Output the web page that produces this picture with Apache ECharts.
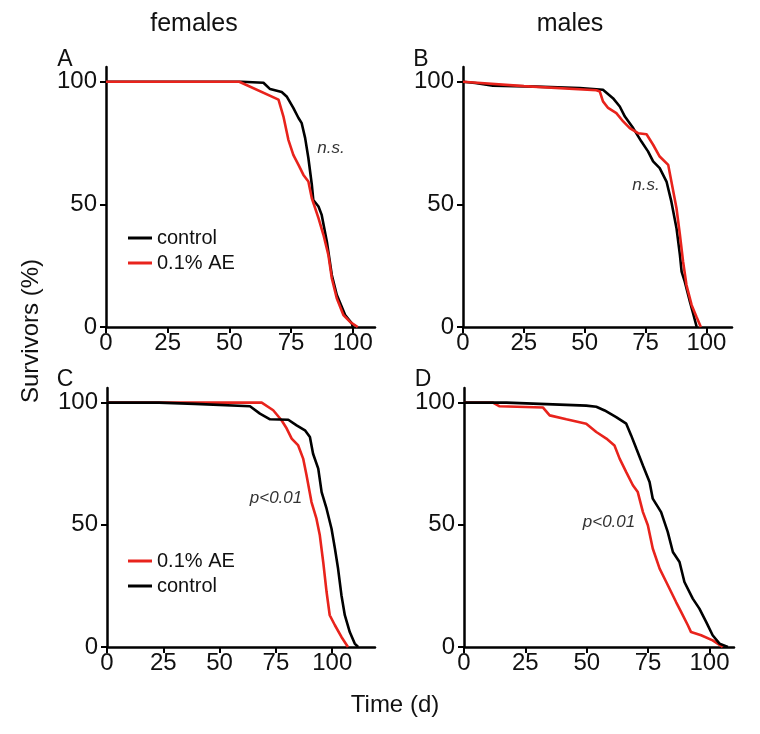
<!DOCTYPE html>
<html>
<head>
<meta charset="utf-8">
<script src="https://cdn.jsdelivr.net/npm/echarts@6/dist/echarts.min.js"></script>
<style>html,body{margin:0;padding:0;background:#fff}#chart{width:760px;height:734px}</style>
</head>
<body>
<div id="chart"></div>
<script>
// ---- data (days, % survivors) ----
const femalesA_control = [[0,100],[55,100],[63.8,99.6],[66.5,97],[71.2,95.8],[73.2,94],[75.9,89.3],[78,85.2],[79.3,83.1],[80.7,77],[82,68.9],[83.4,58],[84,51.8],[86.1,49.1],[87.4,45.7],[89.5,34.8],[91.5,21.2],[93.5,13.1],[96.9,4.9],[99.6,1.5],[100,0]];
const femalesA_AE = [[0,100],[54,100],[69.9,92.7],[71.9,85.8],[73.9,76.3],[75.9,70.2],[78,66.1],[80,62],[82,59.3],[83.4,52.5],[86.1,44.4],[88.1,37.6],[90.1,29.4],[91.5,19.9],[93.5,11.7],[96.2,4.9],[99,2],[102,0]];
const malesB_control = [[0,100],[5,99.5],[12.3,98.4],[30,98],[48,97.4],[57.5,96.7],[61.6,93.3],[64.4,89.9],[66.5,85.8],[69.9,81.1],[73.3,75.6],[76,71.6],[78.1,67.5],[80.8,64.8],[83.6,59.3],[85.6,51.1],[87.7,40.3],[89.1,29.4],[89.8,22.6],[91.1,18.5],[93.2,10.3],[94.5,5.6],[96,0]];
const malesB_AE = [[0,100],[25,98.2],[54.8,96.5],[56.2,96],[57.5,92],[59.6,89.3],[63,87.2],[65.8,83.8],[68.5,81.1],[71.9,79],[75.4,78.6],[78.1,74.3],[80.8,69.5],[84.3,66.1],[85.6,59.3],[87.7,48.4],[89.1,37.6],[90.4,26.7],[91.8,17.1],[93.9,9],[95.9,4.2],[97.7,0]];
const femalesC_control = [[0,100],[23,100],[23,99.5],[39,99.5],[39,99],[63.5,98.5],[67.9,95.5],[72.4,93.2],[80.5,93],[84.2,90.7],[87.9,88.7],[90.1,85.9],[91.5,79.1],[93.8,73],[95.3,63.4],[97.5,56.6],[99.7,48.4],[101.2,40.3],[102.6,32.1],[104.1,21.2],[105.6,13],[107.8,6.1],[110,1.4],[111.5,0]];
const femalesC_AE = [[0,100],[68.7,100],[73.8,96.9],[77.5,92.8],[79.8,89.4],[82,85.3],[84.9,82.5],[87.1,77.1],[88.6,70.3],[90.8,59.3],[93,52.5],[94.5,45.7],[96,34.8],[97.5,22.5],[98.9,13],[101.2,8.9],[104.1,4.1],[107,0]];
const malesD_control = [[0,100],[17.3,100],[17.3,99.3],[49.8,98.8],[53.9,98.3],[57.3,96.8],[62,94.1],[66.1,91.4],[68.1,86.6],[70.2,81.2],[72.9,74.3],[75.6,67.5],[76.9,60.7],[80.3,55.2],[83,47.1],[85.1,38.9],[87.8,34.8],[89.8,26.6],[93.2,19.8],[95.9,15.7],[98.7,10.2],[101.3,4.8],[104.1,1.4],[107.5,0]];
const malesD_AE = [[0,100],[11.8,100],[14.5,98.5],[32.2,98],[34.9,94.8],[41.7,93.2],[49.8,91.4],[53.9,88],[58,85.3],[61.3,82.5],[63.4,77.1],[66.1,71.6],[68.8,66.2],[70.8,63.4],[72.9,55.2],[74.9,49.8],[76.9,40.3],[79.7,32.1],[82.4,26.6],[84.4,22.5],[86.4,18.4],[88.5,14.3],[91.2,8.9],[92.5,6.1],[96.6,4.8],[101.3,2.7],[105.4,0]];

const xTicks = [0, 25, 50, 75, 100];
const yTicks = [0, 50, 100];
const xMaxes = [109, 110.5, 119, 110];
const seriesNames = ['control', '0.1% AE'];
const panelLetters = ['A', 'B', 'C', 'D'];
const columnTitles = ['females', 'males'];
const pLabels = ['n.s.', 'n.s.', 'p<0.01', 'p<0.01'];

const FONT = '"Liberation Sans", Arial, Helvetica, sans-serif';
const RED = '#e8231c';
const BLACK = '#000000';

const grids = [
  {left: 106, top: 67, width: 269, height: 260},
  {left: 463, top: 67, width: 269, height: 260},
  {left: 107, top: 388, width: 268, height: 259},
  {left: 464, top: 388, width: 270, height: 259}
];

function xAxisFor(i) {
  return {
    type: 'value', gridIndex: i, min: 0, max: xMaxes[i], interval: 25,
    splitLine: {show: false},
    axisLine: {show: true, onZero: false, lineStyle: {color: BLACK, width: 2.5}},
    axisTick: {show: true, length: 6, customValues: xTicks, lineStyle: {color: BLACK, width: 2}},
    axisLabel: {customValues: xTicks, margin: 4, color: '#111', fontSize: 24, fontFamily: FONT}
  };
}
function yAxisFor(i) {
  return {
    type: 'value', gridIndex: i, min: 0, max: 106, interval: 50,
    splitLine: {show: false},
    axisLine: {show: true, onZero: false, lineStyle: {color: BLACK, width: 2.5}},
    axisTick: {show: true, length: 6, customValues: yTicks, lineStyle: {color: BLACK, width: 2}},
    axisLabel: {customValues: yTicks, margin: 9, color: '#111', fontSize: 24, fontFamily: FONT}
  };
}
function line(name, data, idx, color, z) {
  return {
    type: 'line', name: name, data: data, xAxisIndex: idx, yAxisIndex: idx,
    showSymbol: false, symbol: 'none', z: z, animation: false,
    lineStyle: {color: color, width: 2.6}, itemStyle: {color: color}
  };
}

const panelData = [
  [femalesA_control, femalesA_AE, true],
  [malesB_control, malesB_AE, true],
  [femalesC_control, femalesC_AE, false],
  [malesD_control, malesD_AE, false]
];
const series = [];
panelData.forEach(function (p, i) {
  const redOnTop = p[2];
  series.push(line(seriesNames[0], p[0], i, BLACK, redOnTop ? 2 : 3));
  series.push(line(seriesNames[1], p[1], i, RED, redOnTop ? 3 : 2));
});

function txt(x, y, text, size, opts) {
  opts = opts || {};
  return {
    type: 'text', x: x, y: y, rotation: opts.rotation || 0, z: 10,
    style: {
      text: text, fill: opts.fill || '#111', fontSize: size, fontFamily: FONT,
      fontStyle: opts.italic ? 'italic' : 'normal',
      textAlign: opts.align || 'center', textVerticalAlign: 'middle'
    }
  };
}

const graphics = [
  txt(194, 24, columnTitles[0], 25),
  txt(570, 24, columnTitles[1], 25),
  txt(65, 60, panelLetters[0], 23),
  txt(421, 60, panelLetters[1], 23),
  txt(65, 380, panelLetters[2], 23),
  txt(423, 380, panelLetters[3], 23),
  txt(31, 331, 'Survivors (%)', 24, {rotation: Math.PI / 2}),
  txt(395, 705, 'Time (d)', 24),
  txt(331, 148, pLabels[0], 17, {italic: true, fill: '#333'}),
  txt(646, 185, pLabels[1], 17, {italic: true, fill: '#333'}),
  txt(276, 498, pLabels[2], 17, {italic: true, fill: '#333'}),
  txt(609, 522, pLabels[3], 17, {italic: true, fill: '#333'})
];

const legendCommon = {
  orient: 'vertical', itemWidth: 24, itemHeight: 3, itemGap: 5, icon: 'rect',
  selectedMode: false,
  textStyle: {fontSize: 20, fontFamily: FONT, color: '#111', lineHeight: 20}
};

const option = {
  backgroundColor: '#ffffff',
  animation: false,
  grid: grids,
  xAxis: [0, 1, 2, 3].map(xAxisFor),
  yAxis: [0, 1, 2, 3].map(yAxisFor),
  legend: [
    Object.assign({}, legendCommon, {left: 123, top: 223, data: [seriesNames[0], seriesNames[1]]}),
    Object.assign({}, legendCommon, {left: 123, top: 546, data: [seriesNames[1], seriesNames[0]]})
  ],
  series: series,
  graphic: graphics
};

const chart = echarts.init(document.getElementById('chart'), null, {renderer: 'canvas'});
chart.setOption(option);
</script>
</body>
</html>
